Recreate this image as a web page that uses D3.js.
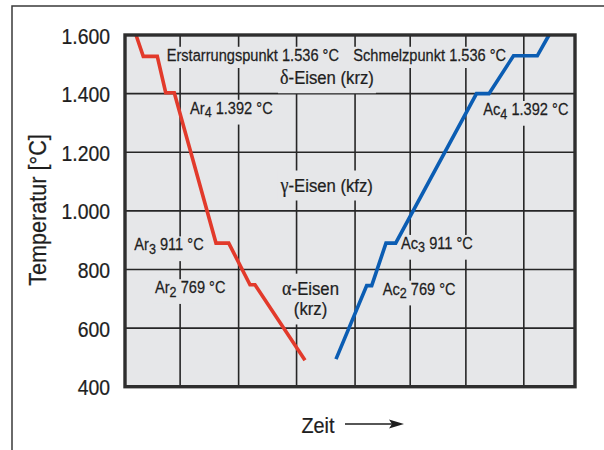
<!DOCTYPE html>
<html><head><meta charset="utf-8">
<script src="https://cdn.jsdelivr.net/npm/d3@7"></script>
<style>body{margin:0;background:#fff}</style>
</head><body><svg id="c" width="604" height="450"></svg>
<script>
// ---- data ----
const yTicks = [400, 600, 800, 1000, 1200, 1400, 1600];
const timeGrid = [0.98, 2.02, 3.05, 4.09, 5.07, 6.06, 7.09];
const coolingTime = [0.196, 0.325, 0.574, 0.724, 0.876, 1.618, 1.844, 2.222, 2.311, 3.2];
const coolingTemp = [1600, 1527, 1527, 1403, 1403, 890, 890, 748, 748, 490];
const heatingTime = [3.751, 4.297, 4.386, 4.64, 4.812, 6.249, 6.471, 6.907, 7.33, 7.538];
const heatingTemp = [494, 745, 745, 890, 890, 1400, 1400, 1529, 1529, 1600];
const labelGreek = ["", "", "δ", "", "", "γ", "", "", "", "", "α", ""];
const labelMain = ["Erstarrungspunkt 1.536 °C", "Schmelzpunkt 1.536 °C", "-Eisen (krz)", "Ar", "Ac", "-Eisen (kfz)", "Ar", "Ac", "Ar", "Ac", "-Eisen", "(krz)"];
const labelSub  = ["", "", "", "4", "4", "", "3", "3", "2", "2", "", ""];
const labelRest = ["", "", "", " 1.392 °C", " 1.392 °C", "", " 911 °C", " 911 °C", " 769 °C", " 769 °C", "", ""];
const labelTime = [0.741, 4.059, 3.591, 1.156, 6.37, 3.586, 0.165, 4.907, 0.533, 4.581, 3.298, 3.298];
const labelTemp = [1512, 1512, 1432, 1331, 1327, 1066, 865, 870, 719, 714, 714, 643];
const labelBig  = [false, false, true, false, false, true, false, false, false, false, true, true];
const yTitle = "Temperatur [°C]";
const xTitle = "Zeit";

// ---- layout ----
const L = 125, R = 575, T = 35, B = 386.7;
const FONT = "Liberation Sans, Arial, Helvetica, sans-serif";
const SERIF = "Liberation Serif, DejaVu Serif, serif";
const INK = "#1e1e1e";
const svg = d3.select("#c");
const x = d3.scaleLinear().domain([0, 8]).range([L, R]);
const y = d3.scaleLinear().domain([400, 1600]).range([B, T]);
const de = d3.formatLocale({decimal: ",", thousands: ".", grouping: [3], currency: ["", "€"]});
const fmt = de.format(",d");

// outer frame
svg.append("path").attr("d", "M12,450 L12,6 L604,6").attr("fill", "none")
  .attr("stroke", "#3a3a3a").attr("stroke-width", 1.5);

// plot bg
svg.append("rect").attr("x", L).attr("y", T).attr("width", R - L).attr("height", B - T).attr("fill", "#e6e7e9");

// grid
const grid = svg.append("g").attr("stroke", "#262626").attr("stroke-width", 1.6);
grid.selectAll("line.v").data(timeGrid).join("line")
  .attr("x1", d => x(d)).attr("x2", d => x(d)).attr("y1", T).attr("y2", B);
grid.selectAll("line.h").data(yTicks.slice(1, -1)).join("line")
  .attr("x1", L).attr("x2", R).attr("y1", d => y(d)).attr("y2", d => y(d));

function ctext(g, tx, ty, size, anchor, sx, rot) {
  return g.append("text")
    .attr("transform", `translate(${tx},${ty})` + (rot ? ` rotate(${rot})` : "") + ` scale(${sx},1)`)
    .attr("font-family", FONT).attr("font-size", size).attr("fill", INK)
    .attr("stroke", INK).attr("stroke-width", 0.25)
    .attr("text-anchor", anchor);
}

// labels
const bgG = svg.append("g");
const txG = svg.append("g");
labelMain.forEach((m, i) => {
  const big = labelBig[i];
  const size = big ? 19 : 17;
  const sx = big ? 0.88 : 0.86;
  const tx = x(labelTime[i]), ty = y(labelTemp[i]);
  const t = ctext(txG, tx, ty, size, big ? "middle" : "start", sx);
  if (labelGreek[i]) t.append("tspan").attr("font-family", SERIF).attr("font-size", size * 1.08).text(labelGreek[i]);
  t.append("tspan").text(m);
  if (labelSub[i]) {
    t.append("tspan").attr("font-size", size * 0.86).attr("dy", 3.5).text(labelSub[i]);
    t.append("tspan").attr("dy", -3.5).text(labelRest[i]);
  }
  const bb = t.node().getBBox();
  const top = big ? -size - 2 : bb.y + 1;
  const bot = big ? 9 : bb.y + bb.height + 4;
  bgG.append("rect")
    .attr("x", tx + bb.x * sx - 2).attr("width", bb.width * sx + 4)
    .attr("y", ty + top).attr("height", bot - top)
    .attr("fill", "#e6e7e9");
});

// curves
const line = d3.line().x(d => x(d[0])).y(d => y(d[1]));
svg.append("path").datum(coolingTime.map((t, i) => [t, coolingTemp[i]]))
  .attr("d", line).attr("fill", "none").attr("stroke", "#e23a2b").attr("stroke-width", 3.6);
svg.append("path").datum(heatingTime.map((t, i) => [t, heatingTemp[i]]))
  .attr("d", line).attr("fill", "none").attr("stroke", "#0b5db3").attr("stroke-width", 3.6);

// border
svg.append("rect").attr("x", L).attr("y", T).attr("width", R - L).attr("height", B - T)
  .attr("fill", "none").attr("stroke", "#2e2e2e").attr("stroke-width", 3.4);

// y ticks
const yAxis = d3.axisLeft(y).tickValues(yTicks).tickFormat(fmt).tickSize(0).tickPadding(0);
const ax = svg.append("g").attr("transform", `translate(${L},0)`).call(yAxis);
ax.select(".domain").remove();
ax.selectAll(".tick text").each(function(d) {
  const p = d3.select(this.parentNode);
  d3.select(this).remove();
  ctext(p, -15, 8, 22, "end", 0.88).text(fmt(d));
});

// axis titles
ctext(svg, 46, 210, 24, "middle", 0.9, -90).text(yTitle);
ctext(svg, 301.5, 432.7, 22, "start", 0.9).text(xTitle);
// arrow
svg.append("line").attr("x1", 345).attr("x2", 395).attr("y1", 424).attr("y2", 424)
  .attr("stroke", INK).attr("stroke-width", 1.6);
svg.append("path").attr("d", "M404,424 L389,419.5 L392,424 L389,428.5 Z").attr("fill", INK);
</script></body></html>
